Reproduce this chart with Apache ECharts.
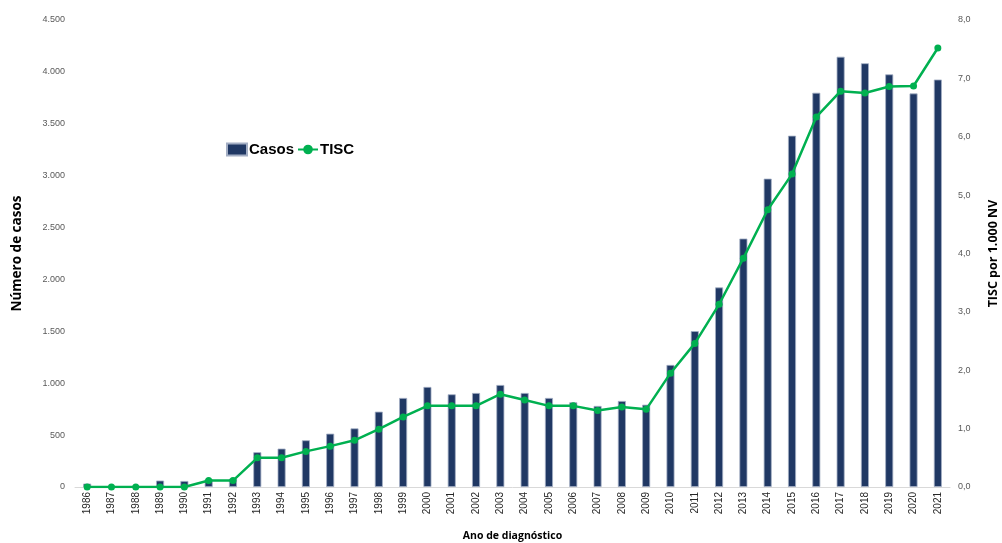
<!DOCTYPE html>
<html><head><meta charset="utf-8">
<script src="https://cdn.jsdelivr.net/npm/echarts@6/dist/echarts.min.js"></script>
<style>html,body{margin:0;padding:0;background:#fff}#c{width:1002px;height:543px}</style>
</head><body><div id="c"></div>
<script>
const years = ['1986','1987','1988','1989','1990','1991','1992','1993','1994','1995','1996','1997','1998','1999','2000','2001','2002','2003','2004','2005','2006','2007','2008','2009','2010','2011','2012','2013','2014','2015','2016','2017','2018','2019','2020','2021'];
const casos = [33,5,10,62,58,75,80,335,370,450,514,565,726,858,964,893,906,983,906,858,816,781,829,793,1176,1502,1923,2394,2971,3385,3799,4146,4083,3976,3792,3926];
const tisc = [0,0,0,0,0,0.11,0.11,0.50,0.50,0.61,0.70,0.80,0.99,1.20,1.39,1.39,1.39,1.59,1.49,1.39,1.39,1.31,1.37,1.33,1.95,2.46,3.13,3.92,4.75,5.36,6.34,6.78,6.75,6.86,6.87,7.52];
const leftTicks = {min:0, max:4500, interval:500};
const rightTicks = {min:0, max:8, interval:1};

const chart = echarts.init(document.getElementById('c'), null, {renderer:'canvas'});
const tickFont = {fontFamily:'Liberation Sans, sans-serif', fontSize:9, color:'#595959'};
chart.setOption({
  animation:false,
  grid:{left:75, right:52, top:20, bottom:56, containLabel:false, outerBoundsMode:'none'},
  legend:{
    left:221, top:137, itemWidth:20, itemHeight:12, itemGap:3,
    textStyle:{fontFamily:'Liberation Sans, sans-serif', fontWeight:'bold', fontSize:15, color:'#000', padding:[0,0,0,-3]},
    data:[{name:'Casos', icon:'rect'}, {name:'TISC'}]
  },
  xAxis:{
    type:'category', data:years,
    name:'Ano de diagnóstico', nameLocation:'middle', nameGap:44,
    nameTextStyle:{fontFamily:'Open Sans, sans-serif', fontWeight:'bold', fontSize:10.5, color:'#000'},
    axisLine:{lineStyle:{color:'#d9d9d9', width:1}},
    axisTick:{show:false},
    axisLabel:{rotate:90, margin:5, fontFamily:'Liberation Sans, sans-serif', fontSize:10, color:'#262626'}
  },
  yAxis:[{
    type:'value', min:leftTicks.min, max:leftTicks.max, interval:leftTicks.interval,
    name:'Número de casos', nameLocation:'middle', nameGap:51, nameRotate:90,
    nameTextStyle:{fontFamily:'Open Sans, sans-serif', fontWeight:'bold', fontSize:13.5, color:'#000'},
    axisLine:{show:false}, axisTick:{show:false}, splitLine:{show:false},
    axisLabel:Object.assign({margin:10, formatter:v=>String(v).replace(/\B(?=(\d{3})+(?!\d))/g,'.')}, tickFont)
  },{
    type:'value', min:rightTicks.min, max:rightTicks.max, interval:rightTicks.interval,
    name:'TISC por 1.000 NV', nameLocation:'middle', nameGap:37, nameRotate:90,
    nameTextStyle:{fontFamily:'Open Sans, sans-serif', fontWeight:'bold', fontSize:12.5, color:'#000'},
    axisLine:{show:false}, axisTick:{show:false}, splitLine:{show:false},
    axisLabel:Object.assign({margin:8, formatter:v=>v.toFixed(1).replace('.',',')}, tickFont)
  }],
  series:[{
    name:'Casos', type:'bar', data:casos, barWidth:8, yAxisIndex:0,
    itemStyle:{color:'#203864', borderColor:'#a3aec4', borderWidth:0.8}
  },{
    name:'TISC', type:'line', data:tisc, yAxisIndex:1,
    symbol:'circle', symbolSize:7,
    lineStyle:{color:'#00b050', width:2.5}, itemStyle:{color:'#00b050'}
  }]
});
</script></body></html>
